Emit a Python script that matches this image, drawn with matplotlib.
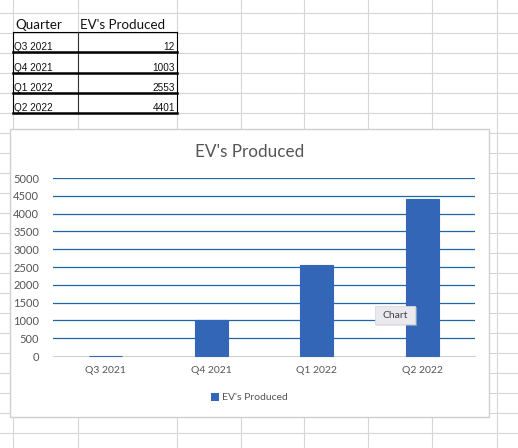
import numpy as np
import matplotlib.pyplot as plt
from matplotlib.patches import Rectangle, Patch

# data from the sheet
quarters = ['Q3 2021', 'Q4 2021', 'Q1 2022', 'Q2 2022']
evs_produced = [12, 1003, 2553, 4401]
y_ticks = [0, 500, 1000, 1500, 2000, 2500, 3000, 3500, 4000, 4500, 5000]

W, H = 518, 448
fig = plt.figure(figsize=(W / 100, H / 100), dpi=100)

# background "spreadsheet" in pixel coords
bg = fig.add_axes([0, 0, 1, 1])
bg.set_xlim(0, W)
bg.set_ylim(H, 0)
bg.axis('off')

grid_c = '#d6d6d6'
for x in [13, 78, 177, 241, 304, 368, 432, 497]:
    bg.plot([x, x], [0, H], color=grid_c, lw=0.8)
for y in range(13, H, 20):
    bg.plot([0, W], [y, y], color=grid_c, lw=0.8)

# the table
bg.text(15, 29, 'Quarter', fontsize=9.6, family='Lato', color='#111111')
bg.text(80, 29, "EV's Produced", fontsize=9.6, family='Lato', color='#111111')
bg.plot([13, 177], [32.5, 32.5], color='black', lw=0.8)
for x in [13, 78, 177]:
    bg.plot([x, x], [32.5, 113], color='#333333' if x == 78 else 'black', lw=0.8)
for i, (q, v) in enumerate(zip(quarters, evs_produced)):
    yb = 52.5 + 20.2 * i
    bg.plot([13, 177], [yb, yb], color='black', lw=1.8)
    bg.text(14.5, yb - 2, q, fontsize=7.2, family='Liberation Sans', color='#111111')
    bg.text(175, yb - 2, str(v), fontsize=7.2, family='Liberation Sans',
            color='#111111', ha='right')

# chart frame
bg.add_patch(Rectangle((10, 129), 479, 288, facecolor='white',
                       edgecolor='#cfcfcf', lw=1, zorder=3))
bg.text(250, 152, "EV's Produced", fontsize=12.3, family='Lato',
        color='#555555', ha='center', va='center', zorder=4)

# chart plot area
ax = fig.add_axes([53 / W, (H - 356) / H, 422 / W, 178 / H], zorder=5)
ax.patch.set_alpha(0)
x = np.arange(len(quarters))
bar_c = '#3466b8'
ax.bar(x, evs_produced, width=0.31, color=bar_c, edgecolor=bar_c, lw=0.8,
       zorder=4, clip_on=False)
ax.set_xlim(-0.5, len(quarters) - 0.5)
ax.set_ylim(0, 5000)
ax.set_yticks(y_ticks)
ax.set_yticklabels([str(t) for t in y_ticks], fontsize=8, family='Lato', color='#555555')
ax.set_xticks(x)
ax.set_xticklabels(quarters, fontsize=7.5, family='Lato', color='#555555')
for t in y_ticks[1:]:
    ax.axhline(t, color='#1f68a8', lw=0.9, zorder=1)
for s in ['top', 'right', 'left']:
    ax.spines[s].set_visible(False)
ax.spines['bottom'].set_color('#d0d0d0')
ax.spines['bottom'].set_zorder(0)
ax.tick_params(length=0, pad=7)
ax.tick_params(axis='y', pad=10)

# legend
leg = ax.legend(handles=[Patch(facecolor=bar_c, label="EV's Produced")],
                loc='upper center', bbox_to_anchor=(0.465, -0.155),
                frameon=False, handlelength=0.75, handleheight=0.75,
                handletextpad=0.3, prop={'family': 'Lato', 'size': 7.5})
for t in leg.get_texts():
    t.set_color('#555555')

# hover tooltip
tip = fig.add_axes([0, 0, 1, 1], zorder=10)
tip.set_xlim(0, W)
tip.set_ylim(H, 0)
tip.axis('off')
tip.add_patch(Rectangle((376, 307), 41, 19, facecolor='#cccccc', edgecolor='none', alpha=0.5))
tip.add_patch(Rectangle((375, 306), 40, 18, facecolor='#e9e9ee', edgecolor='#d8d8dd', lw=0.6))
tip.text(395, 315.5, 'Chart', fontsize=7.5, family='Lato', color='#444444',
         ha='center', va='center')

fig.savefig('out.png', dpi=100)
